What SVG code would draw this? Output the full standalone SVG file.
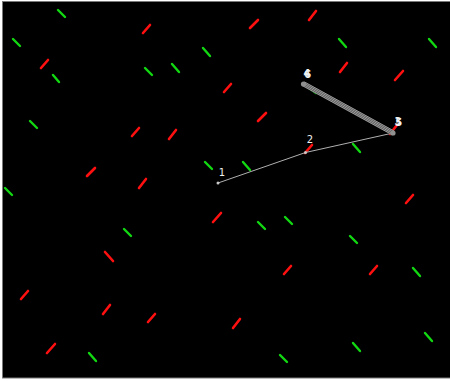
<svg xmlns="http://www.w3.org/2000/svg" width="450" height="381" viewBox="0 0 450 381">
<style>
.r{stroke:#ff1010;stroke-width:2.6;stroke-linecap:round}
.g{stroke:#12d812;stroke-width:2.4;stroke-linecap:round}
.lbl{font-family:"DejaVu Sans",sans-serif;font-size:10px;fill:#f0f0f0;text-anchor:middle}
.edge{stroke:#b0b0b0;stroke-width:1;fill:none}
.band{stroke:#b4b4b4;stroke-width:0.8;fill:none}
</style>
<rect x="0" y="0" width="450" height="381" fill="#ffffff"/>
<rect x="2.5" y="1.5" width="449" height="376.5" fill="#000000" stroke="#7a7a7a" stroke-width="1"/>
<g id="field">
<line class="g" x1="58" y1="10" x2="65" y2="17"/>
<line class="g" x1="13" y1="39" x2="20" y2="46"/>
<line class="g" x1="53" y1="75" x2="59" y2="82"/>
<line class="g" x1="30" y1="121" x2="37" y2="128"/>
<line class="g" x1="145" y1="68" x2="152" y2="75"/>
<line class="g" x1="172" y1="64" x2="179" y2="72"/>
<line class="g" x1="203" y1="48" x2="210" y2="56"/>
<line class="g" x1="339" y1="39" x2="346" y2="47"/>
<line class="g" x1="429" y1="39" x2="436" y2="47"/>
<line class="g" x1="353" y1="144" x2="360" y2="152"/>
<line class="g" x1="205" y1="162" x2="212" y2="169"/>
<line class="g" x1="243" y1="162" x2="250" y2="170"/>
<line class="g" x1="258" y1="222" x2="265" y2="229"/>
<line class="g" x1="285" y1="217" x2="292" y2="224"/>
<line class="g" x1="350" y1="236" x2="357" y2="243"/>
<line class="g" x1="413" y1="268" x2="420" y2="276"/>
<line class="g" x1="425" y1="333" x2="432" y2="341"/>
<line class="g" x1="353" y1="343" x2="360" y2="351"/>
<line class="g" x1="280" y1="355" x2="287" y2="362"/>
<line class="g" x1="89" y1="353" x2="96" y2="361"/>
<line class="g" x1="124" y1="229" x2="131" y2="236"/>
<line class="g" x1="5" y1="188" x2="12" y2="195"/>
<line class="r" x1="143" y1="33" x2="150" y2="25"/>
<line class="r" x1="250" y1="28" x2="258" y2="20"/>
<line class="r" x1="309" y1="20" x2="316" y2="11"/>
<line class="r" x1="41" y1="68" x2="48" y2="60"/>
<line class="r" x1="224" y1="92" x2="231" y2="84"/>
<line class="r" x1="340" y1="72" x2="347" y2="63"/>
<line class="r" x1="395" y1="80" x2="403" y2="71"/>
<line class="r" x1="258" y1="121" x2="266" y2="113"/>
<line class="r" x1="132" y1="136" x2="139" y2="128"/>
<line class="r" x1="169" y1="139" x2="176" y2="130"/>
<line class="r" x1="87" y1="176" x2="95" y2="168"/>
<line class="r" x1="139" y1="188" x2="146" y2="179"/>
<line class="r" x1="406" y1="203" x2="413" y2="195"/>
<line class="r" x1="213" y1="222" x2="221" y2="213"/>
<line class="r" x1="105" y1="252" x2="113" y2="261"/>
<line class="r" x1="284" y1="274" x2="291" y2="266"/>
<line class="r" x1="370" y1="274" x2="377" y2="266"/>
<line class="r" x1="21" y1="299" x2="28" y2="291"/>
<line class="r" x1="103" y1="314" x2="110" y2="305"/>
<line class="r" x1="148" y1="322" x2="155" y2="314"/>
<line class="r" x1="233" y1="328" x2="240" y2="319"/>
<line class="r" x1="47" y1="353" x2="55" y2="344"/>
<line class="r" x1="305" y1="153" x2="312" y2="145"/>
<line class="g" x1="309" y1="88" x2="316" y2="93"/>
<line class="r" x1="390" y1="134" x2="397" y2="125"/>
</g>
<g id="connectors">
<line class="edge" x1="218" y1="183" x2="305.5" y2="152.5"/>
<line class="edge" x1="305.5" y1="152.5" x2="393" y2="133"/>
<line stroke="#444444" stroke-width="5" x1="303.5" y1="84" x2="393" y2="133"/>
<line class="band" x1="304.5" y1="82" x2="394" y2="131"/>
<line class="band" x1="304" y1="83.3" x2="393.5" y2="132.3"/>
<line class="band" x1="303.5" y1="84.6" x2="393" y2="133.6"/>
<line class="band" x1="303" y1="85.9" x2="392.5" y2="134.9"/>
</g>
<g id="node1">
<circle cx="218" cy="183" r="1.5" fill="#c8c8c8"/>
<text class="lbl" x="222" y="176">1</text>
</g>
<g id="node2">
<circle cx="305.5" cy="152.5" r="1.5" fill="#c8c8c8"/>
<text class="lbl" x="310" y="143">2</text>
</g>
<g id="node3">
<circle cx="393" cy="133" r="2.6" fill="#909090"/>
<text class="lbl" x="398" y="125" font-weight="bold">3</text>
<text class="lbl" x="398.8" y="125.6" font-weight="bold">5</text>
</g>
<g id="node4">
<circle cx="303.5" cy="84" r="2.6" fill="#909090"/>
<text class="lbl" x="307" y="77" font-weight="bold">4</text>
<text class="lbl" x="307.8" y="77.6" font-weight="bold">6</text>
</g>
</svg>
